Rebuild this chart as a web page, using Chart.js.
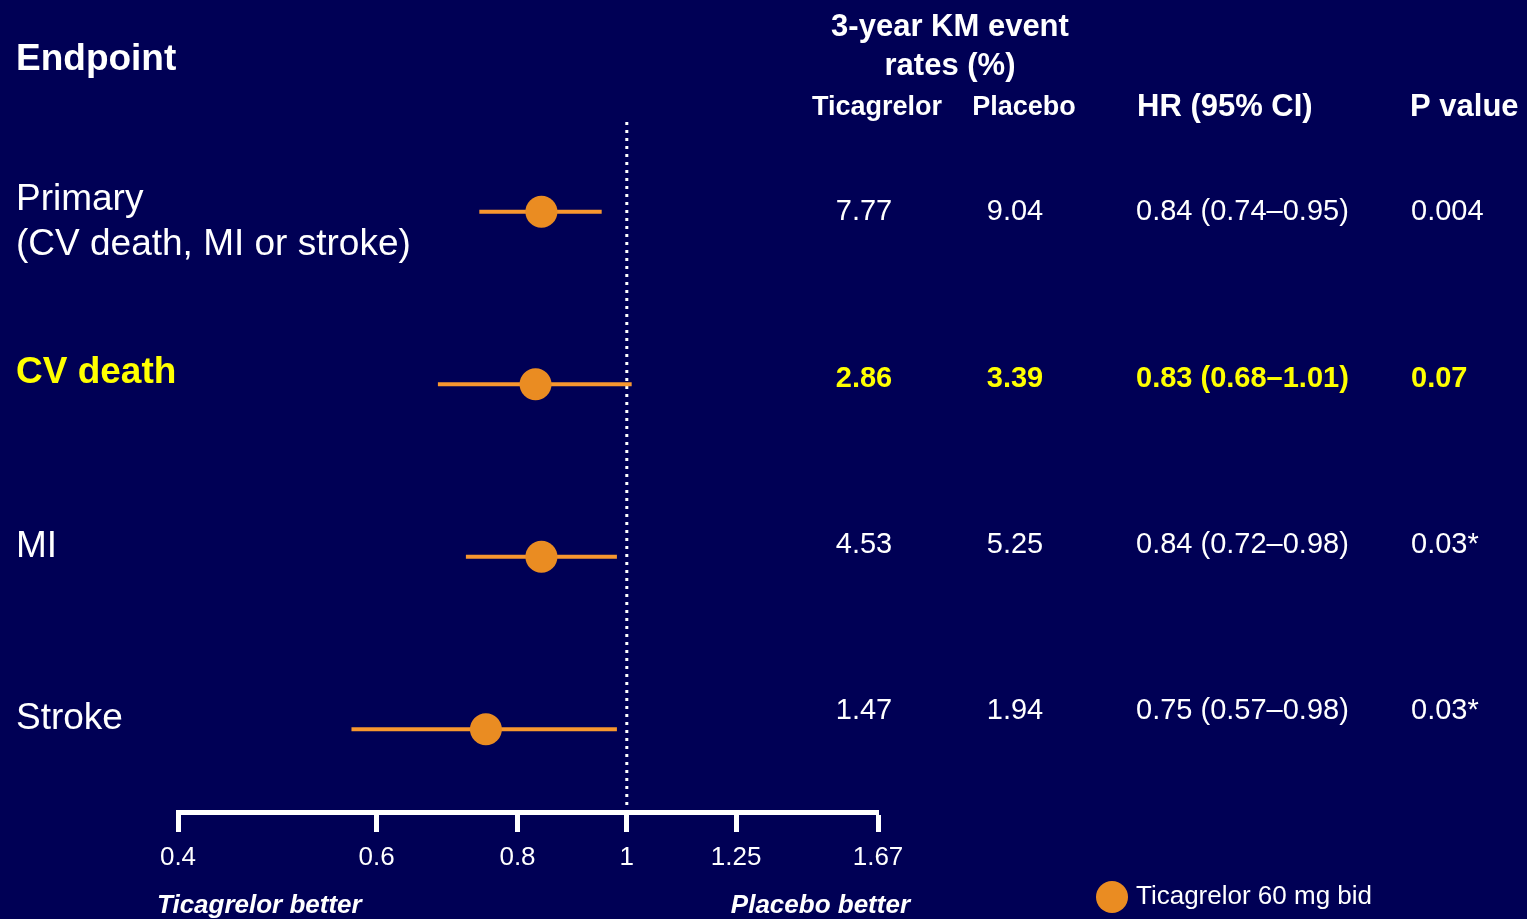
<!DOCTYPE html>
<html>
<head>
<meta charset="utf-8">
<title>Forest plot</title>
<script src="https://cdn.jsdelivr.net/npm/chart.js@4/dist/chart.umd.min.js"></script>
<style>
  html, body { margin: 0; padding: 0; background: #000055; }
  #wrap { width: 1527px; height: 919px; position: relative; }
</style>
</head>
<body>
<div id="wrap"><canvas id="forest" width="1527" height="919"></canvas></div>
<script>
// data
const endpoints = [['Primary', '(CV death, MI or stroke)'], ['CV death'], ['MI'], ['Stroke']];
const hazardRatios = [0.84, 0.83, 0.84, 0.75];
const ciLow = [0.74, 0.68, 0.72, 0.57];
const ciHigh = [0.95, 1.01, 0.98, 0.98];
const ticagrelorRates = ['7.77', '2.86', '4.53', '1.47'];
const placeboRates = ['9.04', '3.39', '5.25', '1.94'];
const pValues = ['0.004', '0.07', '0.03*', '0.03*'];
const tickValues = [0.4, 0.6, 0.8, 1, 1.25, 1.67];
const tickLabels = ['0.4', '0.6', '0.8', '1', '1.25', '1.67'];
const highlightRow = 1;

const FONT = '"Liberation Sans", Arial, sans-serif';
const WHITE = '#ffffff';
const YELLOW = '#ffff00';
const DOT = '#ea8c22';
const LINE = '#f7972f';

// text row positions (pixels)
const labelY = [[200, 245], [373], [547], [719]];
const tableY = [212, 379, 545, 711];

const Y_MIN = -0.52, Y_MAX = 3.48;

const ciSets = hazardRatios.map((h, i) => ({
  type: 'line',
  data: [{ x: ciLow[i], y: i }, { x: ciHigh[i], y: i }],
  borderColor: LINE,
  borderWidth: 4,
  pointRadius: 0,
  borderCapStyle: 'butt',
  order: 1,
  clip: false
}));

const textPlugin = {
  id: 'forestText',
  afterDraw(chart) {
    const ctx = chart.ctx;
    ctx.save();
    ctx.textBaseline = 'middle';
    ctx.fillStyle = WHITE;

    // headers
    ctx.font = 'bold 37px ' + FONT;
    ctx.textAlign = 'left';
    ctx.fillText('Endpoint', 16, 60);
    ctx.font = 'bold 31px ' + FONT;
    ctx.textAlign = 'center';
    ctx.fillText('3-year KM event', 950, 27);
    ctx.fillText('rates (%)', 950, 66);
    ctx.font = 'bold 27px ' + FONT;
    ctx.fillText('Ticagrelor', 877, 108);
    ctx.fillText('Placebo', 1024, 108);
    ctx.font = 'bold 31px ' + FONT;
    ctx.textAlign = 'left';
    ctx.fillText('HR (95% CI)', 1137, 107);
    ctx.fillText('P value', 1410, 107);

    // rows
    endpoints.forEach((lines, i) => {
      const hi = i === highlightRow;
      ctx.fillStyle = hi ? YELLOW : WHITE;
      ctx.font = (hi ? 'bold ' : '') + '37px ' + FONT;
      ctx.textAlign = 'left';
      lines.forEach((t, k) => ctx.fillText(t, 16, labelY[i][k]));

      ctx.font = (hi ? 'bold ' : '') + '29px ' + FONT;
      const y = tableY[i];
      ctx.textAlign = 'center';
      ctx.fillText(ticagrelorRates[i], 864, y);
      ctx.fillText(placeboRates[i], 1015, y);
      ctx.textAlign = 'left';
      const hrText = hazardRatios[i].toFixed(2) + ' (' + ciLow[i].toFixed(2) + '\u2013' + ciHigh[i].toFixed(2) + ')';
      ctx.fillText(hrText, 1136, y);
      ctx.fillText(pValues[i], 1411, y);
    });

    // direction labels
    ctx.fillStyle = WHITE;
    ctx.font = 'italic bold 26px ' + FONT;
    ctx.textAlign = 'left';
    ctx.fillText('Ticagrelor better', 157, 906);
    ctx.textAlign = 'right';
    ctx.fillText('Placebo better', 910, 906);

    // legend
    const ds = chart.data.datasets[0];
    ctx.fillStyle = ds.backgroundColor;
    ctx.beginPath();
    ctx.arc(1112, 897, 16, 0, Math.PI * 2);
    ctx.fill();
    ctx.fillStyle = WHITE;
    ctx.font = '26px ' + FONT;
    ctx.textAlign = 'left';
    ctx.fillText(ds.label, 1136, 897);
    ctx.restore();
  }
};

new Chart(document.getElementById('forest'), {
  type: 'scatter',
  data: {
    datasets: [
      {
        label: 'Ticagrelor 60 mg bid',
        data: hazardRatios.map((h, i) => ({ x: h, y: i })),
        backgroundColor: DOT,
        borderWidth: 0,
        pointRadius: 16,
        order: 0,
        clip: false
      },
      ...ciSets,
      {
        type: 'line',
        data: [{ x: 1, y: Y_MIN }, { x: 1, y: Y_MAX }],
        borderColor: WHITE,
        borderWidth: 3,
        borderDash: [3, 5],
        borderCapStyle: 'butt',
        pointRadius: 0,
        order: 2
      }
    ]
  },
  options: {
    responsive: false,
    animation: false,
    events: [],
    layout: { padding: { left: 178, right: 649, top: 122, bottom: 0 } },
    plugins: { legend: { display: false }, tooltip: { enabled: false } },
    scales: {
      x: {
        type: 'logarithmic',
        min: 0.4,
        max: 1.67,
        bounds: 'data',
        afterBuildTicks(scale) {
          scale.ticks = tickValues.map(v => ({ value: v }));
        },
        afterFit(scale) { scale.height = 107; },
        grid: {
          drawOnChartArea: false,
          drawTicks: true,
          tickLength: 20,
          tickWidth: 5,
          color: WHITE
        },
        border: { display: true, color: WHITE, width: 5 },
        ticks: {
          color: WHITE,
          font: { family: FONT, size: 26 },
          padding: 10,
          maxRotation: 0,
          autoSkip: false,
          callback: (v, i) => tickLabels[i]
        }
      },
      y: {
        type: 'linear',
        display: false,
        reverse: true,
        min: Y_MIN,
        max: Y_MAX
      }
    }
  },
  plugins: [textPlugin]
});
</script>
</body>
</html>
